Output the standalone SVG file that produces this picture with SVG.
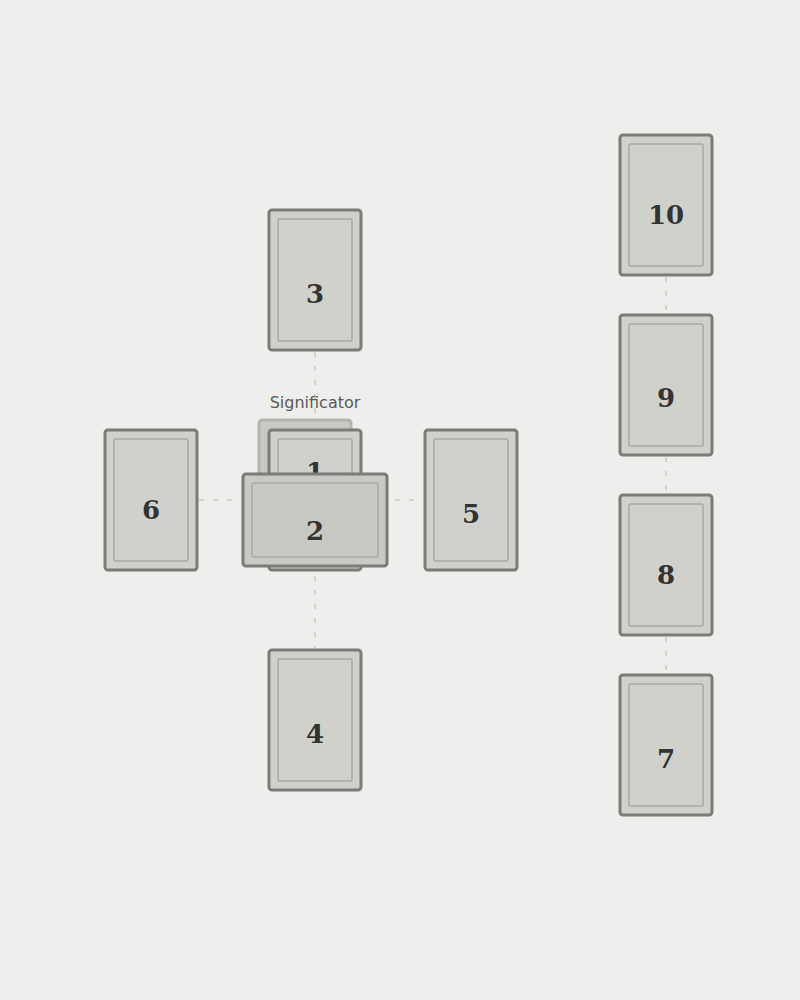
<svg xmlns="http://www.w3.org/2000/svg" width="800" height="1000" viewBox="0 0 800 1000">
<style>
.bg{fill:#eeeeec}
.card{fill:#d1d1cc;stroke:#7b7b77;stroke-width:3}
.inner{fill:none;stroke:#a9a9a4;stroke-width:1.5}
.sig{fill:#c9c9c4;stroke:#b3b3ae;stroke-width:3}
.cross{fill:#c9c9c4}
.num{font-family:"DejaVu Serif","Liberation Serif",serif;font-weight:bold;font-size:26px;fill:#333331;text-anchor:middle}
.lbl{font-family:"DejaVu Sans","Liberation Sans",sans-serif;font-size:16px;fill:#5a5a58;text-anchor:middle}
.conn{stroke:#cacac6;stroke-width:1.5;stroke-dasharray:5 9;fill:none}
</style>
<rect class="bg" x="0" y="0" width="800" height="1000"/>
<g id="connectors">
<line class="conn" x1="315" y1="352" x2="315" y2="648"/>
<line class="conn" x1="199" y1="500" x2="423" y2="500"/>
<line class="conn" x1="666" y1="277" x2="666" y2="313"/>
<line class="conn" x1="666" y1="457" x2="666" y2="493"/>
<line class="conn" x1="666" y1="637" x2="666" y2="673"/>
</g>
<g id="significator">
<rect class="sig" x="259" y="420" width="92" height="140" rx="3"/>
<text class="lbl" x="315" y="408">Significator</text>
</g>
<g id="card3">
<rect class="card" x="269" y="210" width="92" height="140" rx="3"/>
<rect class="inner" x="278" y="219" width="74" height="122" rx="1.5"/>
<text class="num" x="315" y="303">3</text>
</g>
<g id="card1">
<rect class="card" x="269" y="430" width="92" height="140" rx="3"/>
<rect class="inner" x="278" y="439" width="74" height="122" rx="1.5"/>
<text class="num" x="315" y="481">1</text>
</g>
<g id="card2">
<rect class="card cross" x="243" y="474" width="144" height="92" rx="3"/>
<rect class="inner" x="252" y="483" width="126" height="74" rx="1.5"/>
<text class="num" x="315" y="540">2</text>
</g>
<g id="card6">
<rect class="card" x="105" y="430" width="92" height="140" rx="3"/>
<rect class="inner" x="114" y="439" width="74" height="122" rx="1.5"/>
<text class="num" x="151" y="519">6</text>
</g>
<g id="card5">
<rect class="card" x="425" y="430" width="92" height="140" rx="3"/>
<rect class="inner" x="434" y="439" width="74" height="122" rx="1.5"/>
<text class="num" x="471" y="523">5</text>
</g>
<g id="card4">
<rect class="card" x="269" y="650" width="92" height="140" rx="3"/>
<rect class="inner" x="278" y="659" width="74" height="122" rx="1.5"/>
<text class="num" x="315" y="743">4</text>
</g>
<g id="card10">
<rect class="card" x="620" y="135" width="92" height="140" rx="3"/>
<rect class="inner" x="629" y="144" width="74" height="122" rx="1.5"/>
<text class="num" x="666" y="224">10</text>
</g>
<g id="card9">
<rect class="card" x="620" y="315" width="92" height="140" rx="3"/>
<rect class="inner" x="629" y="324" width="74" height="122" rx="1.5"/>
<text class="num" x="666" y="407">9</text>
</g>
<g id="card8">
<rect class="card" x="620" y="495" width="92" height="140" rx="3"/>
<rect class="inner" x="629" y="504" width="74" height="122" rx="1.5"/>
<text class="num" x="666" y="584">8</text>
</g>
<g id="card7">
<rect class="card" x="620" y="675" width="92" height="140" rx="3"/>
<rect class="inner" x="629" y="684" width="74" height="122" rx="1.5"/>
<text class="num" x="666" y="768">7</text>
</g>
</svg>
